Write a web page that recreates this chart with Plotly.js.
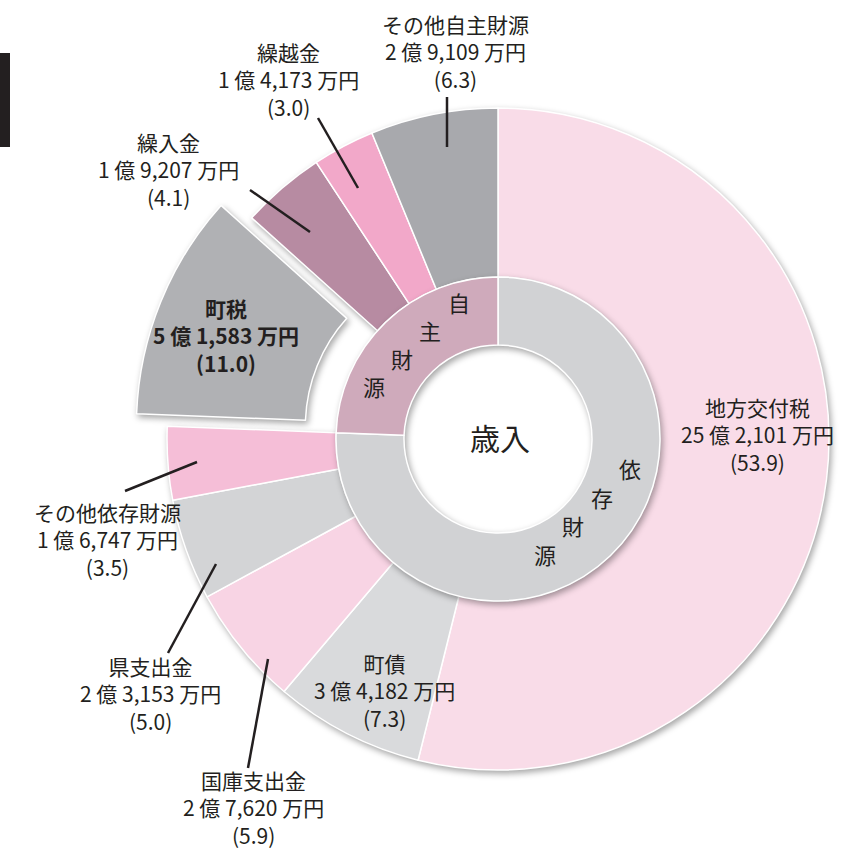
<!DOCTYPE html>
<html><head><meta charset="utf-8">
<script src="https://cdn.plot.ly/plotly-3.0.1.min.js"></script>
<style>
html,body{margin:0;padding:0;background:#fff;overflow:hidden}
#chart{width:843px;height:851px}
.pielayer .trace{filter:drop-shadow(2px 3px 3px rgba(0,0,0,0.35));}
</style></head><body><div id="chart"></div>
<script>
// ---- data (万円) ----
const categories = ['地方交付税','町債','国庫支出金','県支出金','その他依存財源','町税','繰入金','繰越金','その他自主財源'];
const amounts = [252101, 34182, 27620, 23153, 16747, 51583, 19207, 14173, 29109];
const shares = ['53.9','7.3','5.9','5.0','3.5','11.0','4.1','3.0','6.3'];
const groupOf = [0,0,0,0,0,1,1,1,1];
const groups = ['依存財源','自主財源'];
const centerLabel = '歳入';
const pulledCategory = '町税';

// ---- style ----
const sliceColors = ['#f9dce8','#d9dadc','#f8d4e4','#d3d4d6','#f5bed7','#b0b1b4','#b78ba2','#f2a8c9','#a8a9ad'];
const groupColors = ['#d1d2d4','#cfaabb'];
const TXT = '#231f20';
const FONT = '"Noto Sans CJK JP", "Noto Sans", sans-serif';

const W = 843, H = 851;
const CX = 498, CY = 439, R_OUT = 331, R_MID = 162, R_IN = 94, PULL = 0.1;

const px = x => x / W, py = y => 1 - y / H;
function domainFor(cx, cy, r){ return {x:[(cx-r)/W,(cx+r)/W], y:[(H-cy-r)/H,(H-cy+r)/H]}; }

const total = amounts.reduce((a,b)=>a+b,0);
const groupVals = groups.map((g,gi)=>amounts.reduce((s,v,i)=>s+(groupOf[i]===gi?v:0),0));

// pulled slice offset from its mid-angle (clockwise from 12 o'clock)
const pi = categories.indexOf(pulledCategory);
const before = amounts.slice(0,pi).reduce((a,b)=>a+b,0);
const midAng = (before + amounts[pi]/2) / total * 2 * Math.PI;
const pdx = PULL*R_OUT*Math.sin(midAng), pdy = -PULL*R_OUT*Math.cos(midAng);

const T = 'rgba(0,0,0,0)';
const traceMain = {
  type:'pie', values:amounts, labels:categories, sort:false, direction:'clockwise', rotation:0,
  hole:R_MID/R_OUT, textinfo:'none', hoverinfo:'label+value',
  domain:domainFor(CX,CY,R_OUT),
  marker:{colors:sliceColors.map((c,i)=>i===pi?T:c), line:{color:categories.map((c,i)=>i===pi?T:'#ffffff'), width:1.5}},
  showlegend:false
};
const tracePulled = {
  type:'pie', values:amounts, labels:categories, sort:false, direction:'clockwise', rotation:0,
  hole:R_MID/R_OUT, textinfo:'none', hoverinfo:'skip',
  domain:domainFor(CX+pdx,CY+pdy,R_OUT),
  marker:{colors:sliceColors.map((c,i)=>i===pi?c:T), line:{color:categories.map((c,i)=>i===pi?'#ffffff':T), width:1.5}},
  showlegend:false
};
const traceInner = {
  type:'pie', values:groupVals, labels:groups, sort:false, direction:'clockwise', rotation:0,
  hole:R_IN/R_MID, textinfo:'none', hoverinfo:'label+value',
  domain:domainFor(CX,CY,R_MID),
  marker:{colors:groupColors, line:{color:'#ffffff', width:1.5}},
  showlegend:false
};

function amountText(v){
  const oku = Math.floor(v/10000), man = v % 10000;
  return oku + ' 億 ' + man.toLocaleString('en-US') + ' 万円';
}

// label layout (pixel centers) and leader lines
const labelPos = [[757,434],[384,690],[254,807],[150,693],[107,539],[226,336],[168,169],[288,79],[455,51]];
const leaders = [null,null,[[268,659],[248,768]],[[216,564],[168,653]],[[197,462],[125,491]],null,[[310,232],[250,190]],[[358,188],[318,118]],[[447,147],[447,97]]];

const annotations = [];
categories.forEach((c,i)=>{
  const bold = i===pi;
  let t = c + '<br>' + amountText(amounts[i]) + '<br>(' + shares[i] + ')';
  if(bold) t = '<b>'+t+'</b>';
  annotations.push({xref:'paper',yref:'paper',x:px(labelPos[i][0]),y:py(labelPos[i][1]),text:t,showarrow:false,
    xanchor:'center',yanchor:'middle',align:'center',font:{family:FONT,size:21,color:TXT}});
});
// group labels along diagonal
const groupStart = [[630,468],[459,302]];
const groupStep = [[-28.5,28.5],[-28.5,28]];
groups.forEach((g,gi)=>{
  Array.from(g).forEach((ch,k)=>{
    annotations.push({xref:'paper',yref:'paper',x:px(groupStart[gi][0]+k*groupStep[gi][0]),y:py(groupStart[gi][1]+k*groupStep[gi][1]),
      text:ch,showarrow:false,xanchor:'center',yanchor:'middle',font:{family:FONT,size:22,color:TXT}});
  });
});
annotations.push({xref:'paper',yref:'paper',x:px(CX+2),y:py(CY-2),text:centerLabel,showarrow:false,xanchor:'center',yanchor:'middle',
  font:{family:FONT,size:30,color:TXT}});

const shapes = [];
leaders.forEach(l=>{
  if(!l) return;
  shapes.push({type:'line',xref:'paper',yref:'paper',x0:px(l[0][0]),y0:py(l[0][1]),x1:px(l[1][0]),y1:py(l[1][1]),line:{color:TXT,width:2.5}});
});
shapes.push({type:'rect',xref:'paper',yref:'paper',x0:px(0),x1:px(10),y0:py(147),y1:py(53),fillcolor:'#231f20',line:{width:0}});

Plotly.newPlot('chart',[traceMain,tracePulled,traceInner],{
  width:W,height:H,margin:{l:0,r:0,t:0,b:0},paper_bgcolor:'#ffffff',plot_bgcolor:'#ffffff',
  annotations:annotations,shapes:shapes,font:{family:FONT}
},{displayModeBar:false,staticPlot:true});
</script></body></html>
